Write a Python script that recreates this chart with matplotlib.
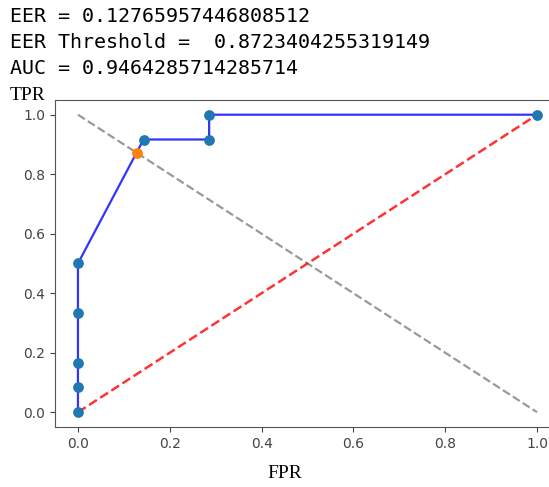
import matplotlib.pyplot as plt

# ROC curve points
fpr = [0.0, 0.0, 0.0, 0.0, 0.0, 0.14285714, 0.28571429, 0.28571429, 1.0]
tpr = [0.0, 0.08333333, 0.16666667, 0.33333333, 0.5, 0.91666667, 0.91666667, 1.0, 1.0]
eer = 0.12765957446808512
eer_threshold = 0.8723404255319149
auc = 0.9464285714285714

fig = plt.figure(figsize=(5.49, 4.87), dpi=100)
# the right edge of the axes is cut off in the reference
ax = fig.add_axes([55 / 549, 0.123, 505 / 549, 0.672])

# printed output above the chart
mono = dict(family='DejaVu Sans Mono', fontsize=14.4, color='black', va='center')
fig.text(0.018, 1 - 17 / 487, f"EER = {eer}", **mono)
fig.text(0.018, 1 - 43 / 487, f"EER Threshold =  {eer_threshold}", **mono)
fig.text(0.018, 1 - 69 / 487, f"AUC = {auc}", **mono)

ax.plot(fpr, tpr, color='blue', lw=1.6, alpha=0.8, zorder=2)
ax.scatter(fpr, tpr, color='tab:blue', s=45, zorder=3)
ax.plot([0, 1], [1, 0], '--', color='gray', alpha=0.8, lw=1.6, zorder=1)
ax.plot([0, 1], [0, 1], '--', color='red', alpha=0.8, lw=1.8, zorder=1)
ax.scatter([eer], [1 - eer], color='tab:orange', s=45, zorder=4)

for s in ax.spines.values():
    s.set_color('#555555')
ax.tick_params(colors='#444444', labelsize=10)

fig.text(0.018, 1 - 95 / 487, 'TPR', family='Liberation Serif', fontsize=14, va='center')
fig.text(0.518, 1 - 474 / 487, 'FPR', family='Liberation Serif', fontsize=14, va='center', ha='center')

fig.savefig('out.png', dpi=100)
